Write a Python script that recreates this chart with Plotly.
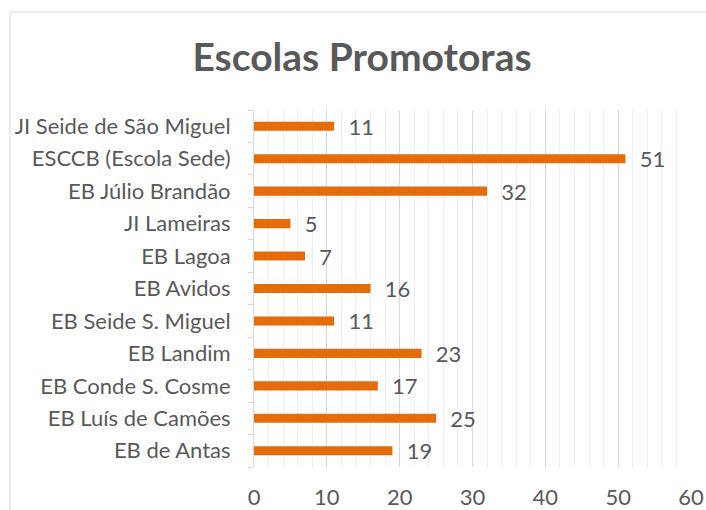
import plotly.graph_objects as go

# Data (bottom to top as drawn)
escolas = [
    "EB de Antas",
    "EB Luís de Camões",
    "EB Conde S. Cosme",
    "EB Landim",
    "EB Seide S. Miguel",
    "EB Avidos",
    "EB Lagoa",
    "JI Lameiras",
    "EB Júlio Brandão",
    "ESCCB (Escola Sede)",
    "JI Seide de São Miguel",
]
valores = [19, 25, 17, 23, 11, 16, 7, 5, 32, 51, 11]
x_ticks = [0, 10, 20, 30, 40, 50, 60]

WIDTH = 706
HEIGHT = 510
TEXT = "#595959"
GRID = "#D9D9D9"
BAR = "#E46C0A"
FONT = "Lato"

fig = go.Figure()
fig.add_trace(go.Bar(
    x=valores,
    y=escolas,
    orientation="h",
    marker=dict(color=BAR, line=dict(width=0)),
    width=0.28,
    text=valores,
    texttemplate="  %{x}",
    textposition="outside",
    constraintext="none",
    textfont=dict(family=FONT, size=22, color=TEXT),
    cliponaxis=False,
))

# plot area in px
L, R, T, B = 254, 15, 110, 43
pw = WIDTH - L - R
ph = HEIGHT - T - B

# outer chart frame (right and bottom sides run off the picture)
fig.add_shape(
    type="rect", xref="paper", yref="paper",
    x0=(10 - L) / pw, x1=(WIDTH + 20 - L) / pw,
    y0=-(B + 20) / ph, y1=(HEIGHT - 12 - B) / ph,
    line=dict(color=GRID, width=1), fillcolor="rgba(0,0,0,0)", layer="below",
)

fig.update_layout(
    width=WIDTH,
    height=HEIGHT,
    paper_bgcolor="white",
    plot_bgcolor="white",
    showlegend=False,
    margin=dict(l=L, r=R, t=T, b=B, autoexpand=False),
    title=dict(
        text="<b>Escolas Promotoras</b>",
        x=362 / WIDTH, xanchor="center",
        y=1 - 57 / HEIGHT, yanchor="middle",
        font=dict(family=FONT, size=39, color=TEXT),
    ),
    xaxis=dict(
        range=[0, 60],
        tickvals=x_ticks,
        showgrid=True,
        gridcolor=GRID,
        gridwidth=1,
        minor=dict(dtick=2, showgrid=True, gridcolor="#EFEFEF", gridwidth=1),
        zeroline=False,
        showline=False,
        ticks="",
        ticklabelstandoff=15,
        tickfont=dict(family=FONT, size=22, color=TEXT),
        fixedrange=True,
    ),
    yaxis=dict(
        type="category",
        categoryorder="array",
        categoryarray=escolas,
        showline=True,
        linecolor=GRID,
        linewidth=1,
        ticks="outside",
        tickson="boundaries",
        ticklen=5,
        tickcolor=GRID,
        showgrid=False,
        ticklabelstandoff=18,
        tickfont=dict(family=FONT, size=22, color=TEXT),
        fixedrange=True,
    ),
    bargap=0.72,
)

# drop the default 8px page margin so the figure fills the window
fig.write_html(
    "out.html",
    config={"displayModeBar": False},
    post_script="document.body.style.margin='0';",
)
